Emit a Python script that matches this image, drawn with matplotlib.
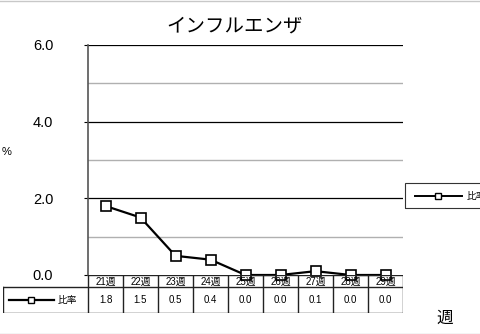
import matplotlib
matplotlib.use("Agg")
import matplotlib.pyplot as plt
from matplotlib.lines import Line2D
from matplotlib.patches import Rectangle

plt.rcParams['font.family'] = ['Liberation Sans', 'Noto Sans CJK JP']

weeks = ['21週', '22週', '23週', '24週', '25週', '26週', '27週', '28週', '29週']
ratio = [1.8, 1.5, 0.5, 0.4, 0.0, 0.0, 0.1, 0.0, 0.0]
value_labels = ['1.8', '1.5', '0.5', '0.4', '0.0', '0.0', '0.1', '0.0', '0.0']
series_name = '比率'
title = 'インフルエンザ'

W, H = 480, 334
fig = plt.figure(figsize=(W / 100, H / 100), dpi=100)


def fx(px):
    return px / W


def fy(py):
    return 1 - py / H


# plot area
left, right, top, bottom = 88, 403, 45, 275
ax = fig.add_axes([fx(left), fy(bottom), fx(right - left), fy(top) - fy(bottom)])
n = len(weeks)
xs = list(range(n))
ax.set_xlim(-0.5, n - 0.5)
ax.set_ylim(0, 6)
for v in [1, 3, 5]:
    ax.axhline(v, color='#b0b0b0', lw=1.0, zorder=1)
for v in [2, 4, 6]:
    ax.axhline(v, color='black', lw=0.9, zorder=1)
ax.plot(xs, ratio, color='black', lw=1.6, marker='s', ms=7,
        mfc='white', mec='black', mew=1.2, clip_on=False, zorder=5)
for s in ['top', 'right', 'bottom']:
    ax.spines[s].set_visible(False)
ax.spines['left'].set_color('#555555')
ax.spines['left'].set_linewidth(1.2)
ax.set_xticks([])
ax.set_yticks([0, 2, 4, 6])
ax.set_yticklabels(['0.0', '2.0', '4.0', '6.0'])
ax.tick_params(axis='y', length=3, labelsize=10.5, pad=22)

fig.text(fx(235), fy(26), title, fontsize=14, ha='center', va='center',
         family=['Noto Sans CJK JP'])
fig.text(fx(7), fy(152), '%', fontsize=8, ha='center', va='center')
fig.text(fx(445), fy(318), '週', fontsize=12, ha='center', va='center',
         family=['Noto Sans CJK JP'])

# data table below the plot
col_w = (right - left) / n
tab_left, tab_bottom = 3, 313
hdr_bot = 287
tx = fig.add_axes([fx(tab_left), fy(tab_bottom), fx(right - tab_left),
                   fy(bottom) - fy(tab_bottom)])
tx.set_xlim(tab_left, right)
tx.set_ylim(tab_bottom, bottom)
tx.axis('off')
lc = '#222222'
# horizontal lines
tx.plot([left, right], [bottom, bottom], color=lc, lw=1.0)
tx.plot([tab_left, right], [hdr_bot, hdr_bot], color=lc, lw=1.0)
tx.plot([tab_left, right], [tab_bottom, tab_bottom], color=lc, lw=1.0)
tx.plot([tab_left, tab_left], [hdr_bot, tab_bottom], color=lc, lw=1.0)
for i in range(n + 1):
    x = left + i * col_w
    tx.plot([x, x], [bottom, tab_bottom], color=lc, lw=1.0)
for i in range(n):
    cx = left + (i + 0.5) * col_w
    tx.text(cx, (bottom + hdr_bot) / 2 + 1, weeks[i], fontsize=7,
            ha='center', va='center', family=['Liberation Sans', 'Noto Sans CJK JP'])
    tx.text(cx, (hdr_bot + tab_bottom) / 2, value_labels[i], fontsize=7,
            ha='center', va='center')
ymid = (hdr_bot + tab_bottom) / 2
tx.plot([9, 54], [ymid, ymid], color='black', lw=1.6)
tx.plot([31], [ymid], marker='s', ms=4, mfc='white', mec='black', mew=1)
tx.text(58, ymid, series_name, fontsize=7, ha='left', va='center',
        family=['Noto Sans CJK JP'])

# legend box on the right (cut off by figure edge)
fig.patches.append(Rectangle((fx(405), fy(208)), fx(100), fy(183) - fy(208),
                             transform=fig.transFigure, fill=False,
                             ec='#333333', lw=0.8))
fig.lines.append(Line2D([fx(415), fx(462)], [fy(195.5), fy(195.5)],
                        transform=fig.transFigure, color='black', lw=1.4))
fig.lines.append(Line2D([fx(438)], [fy(195.5)], transform=fig.transFigure,
                        marker='s', ms=4, mfc='white', mec='black', mew=1))
fig.text(fx(467), fy(195.5), series_name, fontsize=7, ha='left', va='center',
         family=['Noto Sans CJK JP'])

# frame lines of the embedded picture
fig.lines.append(Line2D([0, 1], [fy(0.5), fy(0.5)], transform=fig.transFigure,
                        color='#c8c8c8', lw=1))
fig.lines.append(Line2D([0, 1], [fy(333.5), fy(333.5)], transform=fig.transFigure,
                        color='#c8c8c8', lw=1))

fig.savefig('out.png', dpi=100)
